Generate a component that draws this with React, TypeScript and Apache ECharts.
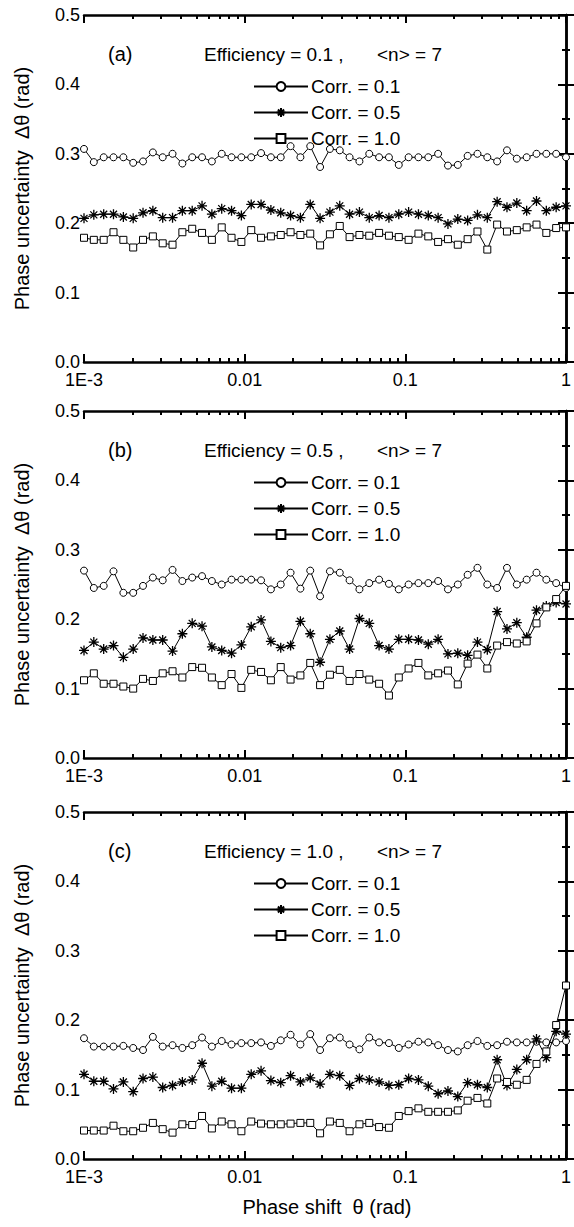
import React, { useEffect, useRef } from "react";
import * as echarts from "echarts";

// Phase shift theta (rad), 50 log-spaced sample points
const THETA = [
  0.001, 0.001151, 0.001326, 0.001526, 0.001758, 0.002024, 0.00233, 0.002683, 0.003089, 0.003557,
  0.004095, 0.004715, 0.005429, 0.006251, 0.007197, 0.008286, 0.009541, 0.010985, 0.012649, 0.014563,
  0.016768, 0.019307, 0.02223, 0.025595, 0.029471, 0.033932, 0.039069, 0.044984, 0.051795, 0.059636,
  0.068665, 0.07906, 0.09103, 0.10481, 0.12068, 0.13895, 0.15999, 0.18421, 0.2121, 0.24421,
  0.28118, 0.32375, 0.37276, 0.42919, 0.49417, 0.56899, 0.65513, 0.75431, 0.86851, 1.0,
];

// Panel (a): efficiency = 0.1
const A_CORR01 = [
  0.307, 0.288, 0.295, 0.295, 0.295, 0.287, 0.289, 0.302, 0.295, 0.3,
  0.286, 0.295, 0.295, 0.289, 0.3, 0.295, 0.295, 0.295, 0.301, 0.295,
  0.295, 0.311, 0.295, 0.311, 0.281, 0.307, 0.305, 0.295, 0.289, 0.3,
  0.295, 0.295, 0.284, 0.295, 0.295, 0.295, 0.3, 0.283, 0.284, 0.297,
  0.3, 0.295, 0.289, 0.305, 0.293, 0.295, 0.3, 0.3, 0.3, 0.295,
];
const A_CORR05 = [
  0.207, 0.212, 0.213, 0.213, 0.209, 0.207, 0.215, 0.218, 0.208, 0.208,
  0.218, 0.218, 0.225, 0.213, 0.221, 0.218, 0.211, 0.227, 0.227, 0.219,
  0.215, 0.211, 0.208, 0.227, 0.207, 0.216, 0.225, 0.213, 0.216, 0.208,
  0.211, 0.208, 0.213, 0.216, 0.213, 0.211, 0.208, 0.199, 0.206, 0.204,
  0.212, 0.208, 0.231, 0.223, 0.229, 0.218, 0.232, 0.218, 0.223, 0.225,
];
const A_CORR10 = [
  0.179, 0.176, 0.176, 0.187, 0.176, 0.165, 0.176, 0.181, 0.171, 0.169,
  0.187, 0.192, 0.186, 0.176, 0.194, 0.179, 0.173, 0.19, 0.179, 0.181,
  0.183, 0.187, 0.183, 0.185, 0.168, 0.184, 0.196, 0.18, 0.183, 0.182,
  0.186, 0.182, 0.18, 0.176, 0.185, 0.181, 0.173, 0.177, 0.169, 0.177,
  0.188, 0.162, 0.198, 0.188, 0.19, 0.194, 0.198, 0.186, 0.193, 0.194,
];

// Panel (b): efficiency = 0.5
const B_CORR01 = [
  0.27, 0.245, 0.248, 0.269, 0.238, 0.238, 0.248, 0.26, 0.256, 0.271,
  0.255, 0.26, 0.262, 0.255, 0.25, 0.257, 0.257, 0.257, 0.256, 0.243,
  0.25, 0.267, 0.244, 0.27, 0.233, 0.269, 0.267, 0.256, 0.243, 0.252,
  0.257, 0.251, 0.243, 0.25, 0.252, 0.252, 0.255, 0.243, 0.25, 0.264,
  0.274, 0.25, 0.245, 0.274, 0.25, 0.257, 0.267, 0.257, 0.252, 0.245,
];
const B_CORR05 = [
  0.155, 0.167, 0.157, 0.162, 0.145, 0.157, 0.173, 0.17, 0.17, 0.154,
  0.179, 0.194, 0.19, 0.16, 0.155, 0.151, 0.163, 0.189, 0.199, 0.168,
  0.159, 0.162, 0.197, 0.179, 0.138, 0.171, 0.183, 0.157, 0.201, 0.194,
  0.162, 0.157, 0.171, 0.171, 0.17, 0.164, 0.171, 0.15, 0.151, 0.148,
  0.167, 0.156, 0.211, 0.186, 0.195, 0.174, 0.213, 0.219, 0.224, 0.222,
];
const B_CORR10 = [
  0.112, 0.122, 0.107, 0.107, 0.103, 0.1, 0.114, 0.111, 0.122, 0.125,
  0.116, 0.131, 0.13, 0.116, 0.105, 0.121, 0.101, 0.127, 0.124, 0.112,
  0.131, 0.113, 0.119, 0.137, 0.105, 0.12, 0.127, 0.111, 0.121, 0.113,
  0.107, 0.09, 0.116, 0.129, 0.137, 0.119, 0.122, 0.126, 0.106, 0.136,
  0.149, 0.129, 0.162, 0.167, 0.165, 0.168, 0.194, 0.217, 0.229, 0.248,
];

// Panel (c): efficiency = 1.0
const C_CORR01 = [
  0.174, 0.162, 0.162, 0.162, 0.163, 0.16, 0.157, 0.176, 0.162, 0.164,
  0.16, 0.164, 0.175, 0.162, 0.17, 0.165, 0.167, 0.167, 0.168, 0.163,
  0.171, 0.179, 0.165, 0.18, 0.157, 0.174, 0.175, 0.165, 0.158, 0.175,
  0.168, 0.167, 0.16, 0.165, 0.169, 0.168, 0.164, 0.157, 0.155, 0.164,
  0.17, 0.163, 0.164, 0.169, 0.168, 0.168, 0.169, 0.168, 0.168, 0.17,
];
const C_CORR05 = [
  0.122, 0.112, 0.112, 0.101, 0.111, 0.097, 0.116, 0.118, 0.103, 0.106,
  0.111, 0.114, 0.138, 0.105, 0.112, 0.102, 0.102, 0.122, 0.127, 0.113,
  0.11, 0.12, 0.111, 0.117, 0.108, 0.122, 0.12, 0.106, 0.116, 0.114,
  0.111, 0.106, 0.107, 0.116, 0.114, 0.105, 0.094, 0.098, 0.09, 0.11,
  0.107, 0.103, 0.143, 0.106, 0.129, 0.143, 0.173, 0.146, 0.184, 0.18,
];
const C_CORR10 = [
  0.041, 0.041, 0.041, 0.048, 0.04, 0.04, 0.045, 0.052, 0.043, 0.038,
  0.05, 0.049, 0.062, 0.044, 0.054, 0.05, 0.04, 0.054, 0.051, 0.05,
  0.05, 0.051, 0.052, 0.052, 0.037, 0.054, 0.052, 0.04, 0.05, 0.052,
  0.046, 0.045, 0.062, 0.069, 0.073, 0.068, 0.068, 0.068, 0.07, 0.084,
  0.088, 0.08, 0.116, 0.111, 0.107, 0.114, 0.137, 0.155, 0.193, 0.25,
];

const PANEL_TAGS = ["(a)", "(b)", "(c)"];
const EFFICIENCIES = ["0.1", "0.5", "1.0"];
const SERIES_NAMES = ["Corr. = 0.1", "Corr. = 0.5", "Corr. = 1.0"];
const PANEL_DATA = [
  [A_CORR01, A_CORR05, A_CORR10],
  [B_CORR01, B_CORR05, B_CORR10],
  [C_CORR01, C_CORR05, C_CORR10],
];
const X_MAJOR = [0.001, 0.01, 0.1, 1];
const X_LABELS = ["1E-3", "0.01", "0.1", "1"];
const X_MINOR = [
  0.002, 0.003, 0.004, 0.005, 0.006, 0.007, 0.008, 0.009,
  0.02, 0.03, 0.04, 0.05, 0.06, 0.07, 0.08, 0.09,
  0.2, 0.3, 0.4, 0.5, 0.6, 0.7, 0.8, 0.9,
];

const FONT = "'Liberation Sans', Arial, sans-serif";
const STAR =
  "path://M5,0L5,10M0,5L10,5M1.5,1.5L8.5,8.5M1.5,8.5L8.5,1.5";

export default function App() {
  const ref = useRef<HTMLDivElement>(null);

  useEffect(() => {
    document.body.style.margin = "0";
    if (!ref.current) return;
    const chart = echarts.init(ref.current, null, { renderer: "svg" });

    const tops = [15, 411, 812];
    const plotH = 347;
    const left = 84;
    const right = 3;

    const grids: any[] = [];
    const xAxes: any[] = [];
    const yAxes: any[] = [];
    const series: any[] = [];
    const legends: any[] = [];
    const graphics: any[] = [];

    const lineAxis = { show: true, lineStyle: { color: "#000", width: 2.5 } };
    const xLabelMap: Record<string, string> = {};
    X_MAJOR.forEach((v, i) => (xLabelMap[Math.log10(v).toFixed(0)] = X_LABELS[i]));

    tops.forEach((top, p) => {
      grids.push({ left, right, top, height: plotH });
      const base = {
        type: "value",
        gridIndex: p,
        min: -3,
        max: 0,
        interval: 1,
        splitLine: { show: false },
      };
      xAxes.push({
        ...base,
        position: "bottom",
        axisLine: lineAxis,
        axisTick: { show: true, inside: true, length: 8, lineStyle: { color: "#000", width: 2 } },
        axisLabel: {
          show: true,
          color: "#000",
          fontSize: 18,
          lineHeight: 18,
          fontFamily: FONT,
          margin: 9,
          showMinLabel: true,
          showMaxLabel: true,
          formatter: (v: number) => xLabelMap[v.toFixed(0)] ?? "",
        },
      });
      xAxes.push({
        ...base,
        position: "bottom",
        axisLine: { show: false },
        axisTick: {
          show: true,
          inside: true,
          length: 4,
          lineStyle: { color: "#000", width: 2 },
          customValues: X_MINOR.map((v) => Math.log10(v)),
        },
        axisLabel: { show: false },
      });
      xAxes.push({
        ...base,
        position: "top",
        axisLine: lineAxis,
        axisTick: { show: true, inside: true, length: 8, lineStyle: { color: "#000", width: 2 } },
        axisLabel: { show: false },
      });
      xAxes.push({
        ...base,
        position: "top",
        axisLine: { show: false },
        axisTick: {
          show: true,
          inside: true,
          length: 4,
          lineStyle: { color: "#000", width: 2 },
          customValues: X_MINOR.map((v) => Math.log10(v)),
        },
        axisLabel: { show: false },
      });

      const yBase = {
        type: "value",
        gridIndex: p,
        min: 0,
        max: 0.5,
        interval: 0.1,
        splitLine: { show: false },
        axisLine: lineAxis,
        axisTick: { show: true, inside: true, length: 8, lineStyle: { color: "#000", width: 2 } },
        minorTick: { show: true, splitNumber: 2, length: 4, lineStyle: { color: "#000", width: 2 } },
        minorSplitLine: { show: false },
      };
      yAxes.push({
        ...yBase,
        position: "left",
        axisLabel: {
          show: true,
          color: "#000",
          fontSize: 18,
          lineHeight: 16,
          fontFamily: FONT,
          margin: 4,
          formatter: (v: number) => v.toFixed(1),
        },
      });
      yAxes.push({ ...yBase, position: "right", axisLabel: { show: false } });

      const symbols = ["circle", STAR, "rect"];
      PANEL_DATA[p].forEach((vals, s) => {
        const isStar = s === 1;
        series.push({
          type: "line",
          name: SERIES_NAMES[s],
          xAxisIndex: p * 4,
          yAxisIndex: p * 2,
          data: THETA.map((t, i) => [Math.log10(t), vals[i]]),
          symbol: symbols[s],
          symbolSize: isStar ? 10 : 7,
          showAllSymbol: true,
          lineStyle: { color: "#000", width: 1 },
          itemStyle: isStar
            ? { color: "#000", borderColor: "#000", borderWidth: 1.3 }
            : { color: "#fff", borderColor: "#000", borderWidth: 1 },
          emphasis: { disabled: true },
          z: 3 + s,
        });
      });

      legends.push({
        data: SERIES_NAMES,
        orient: "vertical",
        left: 248,
        top: top + 57,
        itemWidth: 54,
        itemHeight: 11,
        itemGap: 7,
        selectedMode: false,
        textStyle: { color: "#000", fontSize: 19, fontFamily: FONT, padding: [0, 0, 0, -2] },
      });

      graphics.push({
        type: "text",
        left: 108,
        top: top + 29,
        style: { text: PANEL_TAGS[p], fill: "#000", font: `20px ${FONT}` },
      });
      graphics.push({
        type: "text",
        left: 204,
        top: top + 30,
        style: {
          text: `Efficiency = ${EFFICIENCIES[p]} ,`,
          fill: "#000",
          font: `19px ${FONT}`,
        },
      });
      graphics.push({
        type: "text",
        left: 377,
        top: top + 30,
        style: {
          text: `<n> = 7`,
          fill: "#000",
          font: `19px ${FONT}`,
        },
      });
      graphics.push({
        type: "text",
        x: 22,
        y: top + plotH / 2,
        rotation: Math.PI / 2,
        style: {
          text: "Phase uncertainty  Δθ (rad)",
          fill: "#000",
          font: `20px ${FONT}`,
          align: "center",
          verticalAlign: "middle",
        },
      });
    });

    graphics.push({
      type: "text",
      x: 327,
      y: 1207,
      style: {
        text: "Phase shift  θ (rad)",
        fill: "#000",
        font: `20px ${FONT}`,
        align: "center",
        verticalAlign: "middle",
      },
    });

    chart.setOption({
      animation: false,
      backgroundColor: "#fff",
      grid: grids,
      xAxis: xAxes,
      yAxis: yAxes,
      series,
      legend: legends,
      graphic: graphics,
    });

    return () => chart.dispose();
  }, []);

  return <div ref={ref} style={{ width: 574, height: 1227 }} />;
}
